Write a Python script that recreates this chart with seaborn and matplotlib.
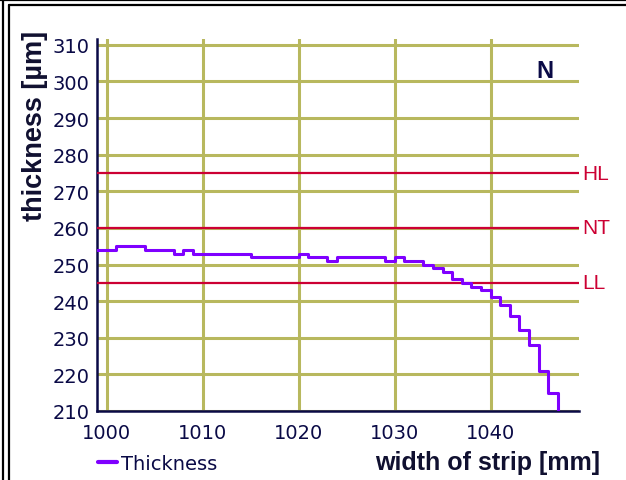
import matplotlib
matplotlib.use("Agg")
import matplotlib.pyplot as plt
import matplotlib.transforms as mtransforms
from matplotlib.lines import Line2D
import seaborn as sns
import pandas as pd

# strip width position [mm] and measured thickness [um]
width_mm = list(range(999, 1048))
thickness = [254, 254, 255, 255, 255, 254, 254, 254, 253, 254,
             253, 253, 253, 253, 253, 253, 252, 252, 252, 252,
             252, 253, 252, 252, 251, 252, 252, 252, 252, 252,
             251, 252, 251, 251, 250, 249, 248, 246, 245, 244,
             243, 241, 239, 236, 232, 228, 221, 215, 205]

limit_names = ["HL", "NT", "LL"]
limit_values = [275, 260, 245]

x_ticks = [1000, 1010, 1020, 1030, 1040]
y_ticks = list(range(210, 311, 10))

navy = "#0a0a46"
olive = "#b8b85e"
crimson = "#cc0033"
purple = "#7f00ff"

sns.set_style("white")
plt.rcParams["font.family"] = ["Liberation Sans", "DejaVu Sans"]

df = pd.DataFrame({"width": width_mm, "thickness": thickness})

fig = plt.figure(figsize=(6.26, 4.81), dpi=100)
ax = fig.add_axes([97 / 626, 1 - 412 / 481, (579 - 97) / 626, (412 - 40) / 481])

sns.lineplot(data=df, x="width", y="thickness", ax=ax, color=purple,
             linewidth=2.2, drawstyle="steps-post", label="Thickness", zorder=4)

for v in x_ticks:
    ax.axvline(v, color=olive, lw=2.2, zorder=1)
for v in y_ticks:
    ax.axhline(v, color=olive, lw=2.2, zorder=1)

trans = mtransforms.blended_transform_factory(ax.transAxes, ax.transData)
for name, val in zip(limit_names, limit_values):
    ax.axhline(val, color=crimson, lw=1.6, zorder=3)
    ax.text(1.007, val, name, transform=trans, color=crimson, fontsize=15,
            va="center", ha="left")

ax.text(0.93, 0.915, "N", transform=ax.transAxes, color=navy, fontsize=17,
        fontweight="bold", ha="center", va="center")

ax.set_xlim(999, 1049.2)
ax.set_ylim(210, 311.6)
ax.set_xticks(x_ticks)
ax.set_yticks(y_ticks)
ax.set_xlabel("")
ax.set_ylabel("")
ax.tick_params(axis="both", direction="inout", length=9, width=1.6,
               colors=navy, labelsize=14)
ax.tick_params(axis="x", pad=4)
ax.tick_params(axis="y", pad=1)
for lab in ax.get_xticklabels() + ax.get_yticklabels():
    lab.set_family("DejaVu Sans")
for side in ["top", "right"]:
    ax.spines[side].set_visible(False)
for side in ["left", "bottom"]:
    ax.spines[side].set_color(navy)
    ax.spines[side].set_linewidth(1.8)

fig.text(35 / 626, 1 - 126 / 481, "thickness [\u00b5m]", rotation=90,
         fontsize=19.5, fontweight="bold", color="#101030", ha="center", va="center")
fig.text(600 / 626, 1 - 463 / 481, "width of strip [mm]", fontsize=18,
         fontweight="bold", color="#101030", ha="right", va="center")

leg = ax.legend(loc="center left", bbox_to_anchor=(80 / 626, 1 - 464 / 481),
                bbox_transform=fig.transFigure, frameon=False,
                prop={"family": "DejaVu Sans", "size": 14},
                handlelength=1.0, handletextpad=0.2, labelcolor=navy)
leg.get_lines()[0].set_linewidth(3)

# double frame around the picture
px = lambda x: x / 626
py = lambda y: 1 - y / 481
fig.add_artist(Line2D([0, 1], [py(1), py(1)], color="black", lw=1.6))
fig.add_artist(Line2D([px(3), px(3)], [py(1), 0], color="black", lw=1.6))
fig.add_artist(Line2D([px(8.5), 1], [py(5.5), py(5.5)], color="black", lw=1.6))
fig.add_artist(Line2D([px(8.5), px(8.5)], [py(5.5), 0], color="black", lw=1.6))

fig.savefig("out.png", dpi=100)
